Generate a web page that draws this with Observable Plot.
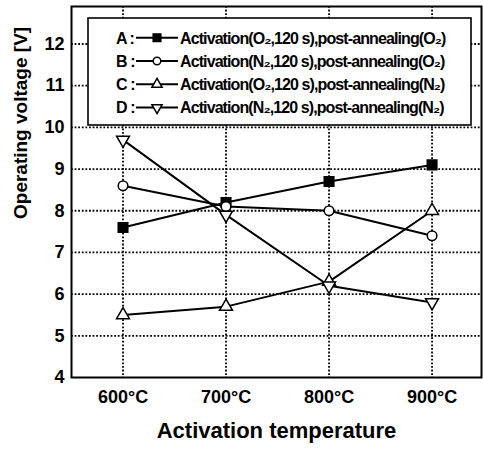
<!DOCTYPE html>
<html><head><meta charset="utf-8">
<script src="https://cdn.jsdelivr.net/npm/d3@7"></script>
<script src="https://cdn.jsdelivr.net/npm/@observablehq/plot@0.6"></script>
<style>
body{margin:0;background:#fff}
#chart{position:relative;width:483px;height:450px}
svg{font-family:"Liberation Sans",Arial,sans-serif;font-weight:bold}
</style>
</head><body><div id="chart"></div>
<script>
// ---- data ----
const temperatures = [600, 700, 800, 900];
const seriesA = [7.6, 8.2, 8.7, 9.1];
const seriesB = [8.6, 8.1, 8.0, 7.4];
const seriesC = [5.5, 5.7, 6.3, 8.0];
const seriesD = [9.7, 7.9, 6.2, 5.8];
const seriesKeys = ["A", "B", "C", "D"];
const seriesLabels = [
  "Activation(O₂,120 s),post-annealing(O₂)",
  "Activation(N₂,120 s),post-annealing(O₂)",
  "Activation(O₂,120 s),post-annealing(N₂)",
  "Activation(N₂,120 s),post-annealing(N₂)"
];
const yTicks = [4, 5, 6, 7, 8, 9, 10, 11, 12];
const xTickSuffix = "°C";
const xTitle = "Activation temperature";
const yTitle = "Operating voltage [V]";

// ---- helpers ----
const sqrt3 = Math.sqrt(3);
const triangleDown = {
  draw(ctx, size) {
    const y = -Math.sqrt(size / (sqrt3 * 3));
    ctx.moveTo(0, -y * 2);
    ctx.lineTo(-sqrt3 * y, y);
    ctx.lineTo(sqrt3 * y, y);
    ctx.closePath();
  }
};
const allSeries = [seriesA, seriesB, seriesC, seriesD];
const rows = seriesKeys.flatMap((k, si) => temperatures.map((t, i) => ({s: k, t, v: allSeries[si][i]})));
const bySeries = k => rows.filter(d => d.s === k);

const styles = [
  {symbol: "square", fill: "black", stroke: "black", r: 5.4, lr: 4.3, d3sym: d3.symbolSquare},
  {symbol: "circle", fill: "white", stroke: "black", r: 4.8, lr: 3.8, d3sym: d3.symbolCircle},
  {symbol: "triangle", fill: "white", stroke: "black", r: 4.8, lr: 3.8, d3sym: d3.symbolTriangle},
  {symbol: triangleDown, fill: "white", stroke: "black", r: 4.8, lr: 3.8, d3sym: triangleDown}
];

const gridStyle = {stroke: "black", strokeWidth: 1.8, strokeDasharray: "1.8,1.8"};

const plot = Plot.plot({
  width: 483, height: 450,
  marginLeft: 71, marginRight: 2, marginTop: 6, marginBottom: 73,
  x: {domain: [550, 948]},
  y: {domain: [4, 12.9]},
  style: {background: "white", fontFamily: "Liberation Sans, Arial, sans-serif", fontWeight: "bold", color: "black"},
  marks: [
    Plot.ruleY(yTicks.filter(d => d > yTicks[0]), gridStyle),
    Plot.ruleX(temperatures, gridStyle),
    Plot.line(rows, {x: "t", y: "v", z: "s", stroke: "black", strokeWidth: 2}),
    ...seriesKeys.map((k, i) => Plot.dot(bySeries(k), {
      x: "t", y: "v", symbol: styles[i].symbol, fill: styles[i].fill,
      stroke: styles[i].stroke, strokeWidth: 1.5, r: styles[i].r
    })),
    Plot.frame({stroke: "black", strokeWidth: 2}),
    Plot.axisX({ticks: temperatures, tickFormat: d => d + xTickSuffix, tickSize: 0, tickPadding: 13,
      fontSize: 18, fontWeight: "bold", label: null}),
    Plot.axisY({ticks: yTicks, tickFormat: d => String(d), tickSize: 0, tickPadding: 7,
      fontSize: 18, fontWeight: "bold", label: null}),
    Plot.text([xTitle], {frameAnchor: "bottom", lineAnchor: "bottom", dy: 60,
      fontSize: 22, fontWeight: "bold", letterSpacing: 0.6}),
    Plot.text([yTitle], {frameAnchor: "left", rotate: -90, lineAnchor: "middle", dx: -51, dy: 27,
      fontSize: 19, fontWeight: "bold", letterSpacing: 0.7})
  ]
});

// ---- legend (layout box inside the plot) ----
const svg = d3.select(plot);
const lg = svg.append("g").attr("text-anchor", "start");
const box = {x: 88, y: 18, w: 383, h: 107};
lg.append("rect").attr("x", box.x).attr("y", box.y).attr("width", box.w).attr("height", box.h)
  .attr("fill", "white").attr("stroke", "black").attr("stroke-width", 1.6);
seriesKeys.forEach((k, i) => {
  const cy = box.y + 19.7 + i * 23.3;
  const g = lg.append("g");
  g.append("text").attr("x", 116).attr("y", cy + 5.8).attr("font-size", 16).attr("font-weight", "bold")
    .attr("text-anchor", "start").attr("letter-spacing", -0.9).attr("fill", "black").text(k + " :");
  g.append("line").attr("x1", 136).attr("x2", 178).attr("y1", cy).attr("y2", cy)
    .attr("stroke", "black").attr("stroke-width", 2);
  g.append("path").attr("transform", `translate(157,${cy})`)
    .attr("d", d3.symbol(styles[i].d3sym, Math.PI * styles[i].lr * styles[i].lr)())
    .attr("fill", styles[i].fill).attr("stroke", "black").attr("stroke-width", 1.5);
  g.append("text").attr("x", 180).attr("y", cy + 5.8).attr("font-size", 16).attr("font-weight", "bold")
    .attr("text-anchor", "start").attr("letter-spacing", -0.9).attr("fill", "black").text(seriesLabels[i]);
});

document.getElementById("chart").appendChild(plot);
</script>
</body></html>
